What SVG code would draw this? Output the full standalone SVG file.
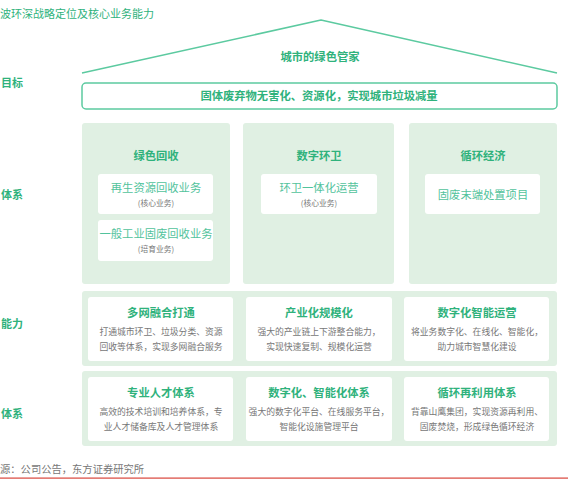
<svg xmlns="http://www.w3.org/2000/svg" width="568" height="481" viewBox="0 0 568 481">
<style>
text{font-family:"Noto Sans CJK SC","Noto Sans",sans-serif;}
.g{fill:#2fb27c;font-weight:bold;}
.lbl{fill:#2fb27c;font-weight:bold;font-size:11px;}
.ttl{fill:#2fb27c;font-weight:bold;font-size:11.3px;text-anchor:middle;}
.biz{fill:#52c39c;font-size:11.3px;text-anchor:middle;}
.sub{fill:#777;font-size:7.8px;text-anchor:middle;}
.desc{fill:#777;font-size:8.8px;text-anchor:middle;}
.panel{fill:#e0f0e3;}
.card{fill:#fff;}
</style>
<rect width="568" height="481" fill="#fff"/>
<text x="0" y="18" fill="#2fb27c" font-size="11px">波环深战略定位及核心业务能力</text>

<g id="labels">
<text class="lbl" x="1" y="87">目标</text>
<text class="lbl" x="1" y="199">体系</text>
<text class="lbl" x="1" y="328">能力</text>
<text class="lbl" x="1" y="418">体系</text>
</g>

<g id="roof">
<polyline points="82,73 321,20 557,73" fill="none" stroke="#5ccaa0" stroke-width="1.5" stroke-linejoin="round"/>
<text class="ttl" x="320" y="61">城市的绿色管家</text>
</g>

<g id="goal">
<rect x="82" y="83" width="475" height="26" rx="4" fill="#fff" stroke="#5ccaa0" stroke-width="1.5"/>
<text class="ttl" x="319" y="100">固体废弃物无害化、资源化，实现城市垃圾减量</text>
</g>

<g id="panel-recycle">
<rect class="panel" x="82" y="123" width="148" height="161" rx="3"/>
<text class="ttl" x="156" y="160">绿色回收</text>
<rect class="card" x="98" y="174" width="115" height="40" rx="3"/>
<text class="biz" x="156" y="192">再生资源回收业务</text>
<text class="sub" x="156" y="206">(核心业务)</text>
<rect class="card" x="98" y="220" width="115" height="41" rx="3"/>
<text class="biz" x="156" y="238">一般工业固废回收业务</text>
<text class="sub" x="156" y="252">(培育业务)</text>
</g>

<g id="panel-sanitation">
<rect class="panel" x="243" y="123" width="151" height="161" rx="3"/>
<text class="ttl" x="319" y="160">数字环卫</text>
<rect class="card" x="261" y="174" width="116" height="40" rx="3"/>
<text class="biz" x="319" y="192">环卫一体化运营</text>
<text class="sub" x="319" y="206">(核心业务)</text>
</g>

<g id="panel-circular">
<rect class="panel" x="409" y="123" width="148" height="161" rx="3"/>
<text class="ttl" x="483" y="160">循环经济</text>
<rect class="card" x="425" y="174" width="115" height="40" rx="3"/>
<text class="biz" x="483" y="199">固废末端处置项目</text>
</g>

<g id="ability">
<rect class="panel" x="82" y="291" width="475" height="75" rx="3"/>
<g id="ab1">
<rect class="card" x="88" y="297" width="145" height="64" rx="3"/>
<text class="ttl" x="161" y="317">多网融合打通</text>
<text class="desc" x="161" y="335">打通城市环卫、垃圾分类、资源</text>
<text class="desc" x="161" y="350">回收等体系，实现多网融合服务</text>
</g>
<g id="ab2">
<rect class="card" x="246" y="297" width="146" height="64" rx="3"/>
<text class="ttl" x="319" y="317">产业化规模化</text>
<text class="desc" x="319" y="335">强大的产业链上下游整合能力，</text>
<text class="desc" x="319" y="350">实现快速复制、规模化运营</text>
</g>
<g id="ab3">
<rect class="card" x="404" y="297" width="145" height="64" rx="3"/>
<text class="ttl" x="477" y="317">数字化智能运营</text>
<text class="desc" x="477" y="335">将业务数字化、在线化、智能化，</text>
<text class="desc" x="477" y="350">助力城市智慧化建设</text>
</g>
</g>

<g id="support">
<rect class="panel" x="82" y="371" width="475" height="75" rx="3"/>
<g id="su1">
<rect class="card" x="88" y="377" width="145" height="64" rx="3"/>
<text class="ttl" x="161" y="397">专业人才体系</text>
<text class="desc" x="161" y="415">高效的技术培训和培养体系，专</text>
<text class="desc" x="161" y="430">业人才储备库及人才管理体系</text>
</g>
<g id="su2">
<rect class="card" x="246" y="377" width="146" height="64" rx="3"/>
<text class="ttl" x="319" y="397">数字化、智能化体系</text>
<text class="desc" x="319" y="415">强大的数字化平台、在线服务平台，</text>
<text class="desc" x="319" y="430">智能化设施管理平台</text>
</g>
<g id="su3">
<rect class="card" x="404" y="377" width="145" height="64" rx="3"/>
<text class="ttl" x="477" y="397">循环再利用体系</text>
<text class="desc" x="477" y="415">背靠山鹰集团，实现资源再利用、</text>
<text class="desc" x="477" y="430">固废焚烧，形成绿色循环经济</text>
</g>
</g>

<text x="0" y="473" fill="#777" font-size="10.3px">源：公司公告，东方证券研究所</text>
<rect x="0" y="477.5" width="568" height="1.2" fill="#d9453b"/>
</svg>
